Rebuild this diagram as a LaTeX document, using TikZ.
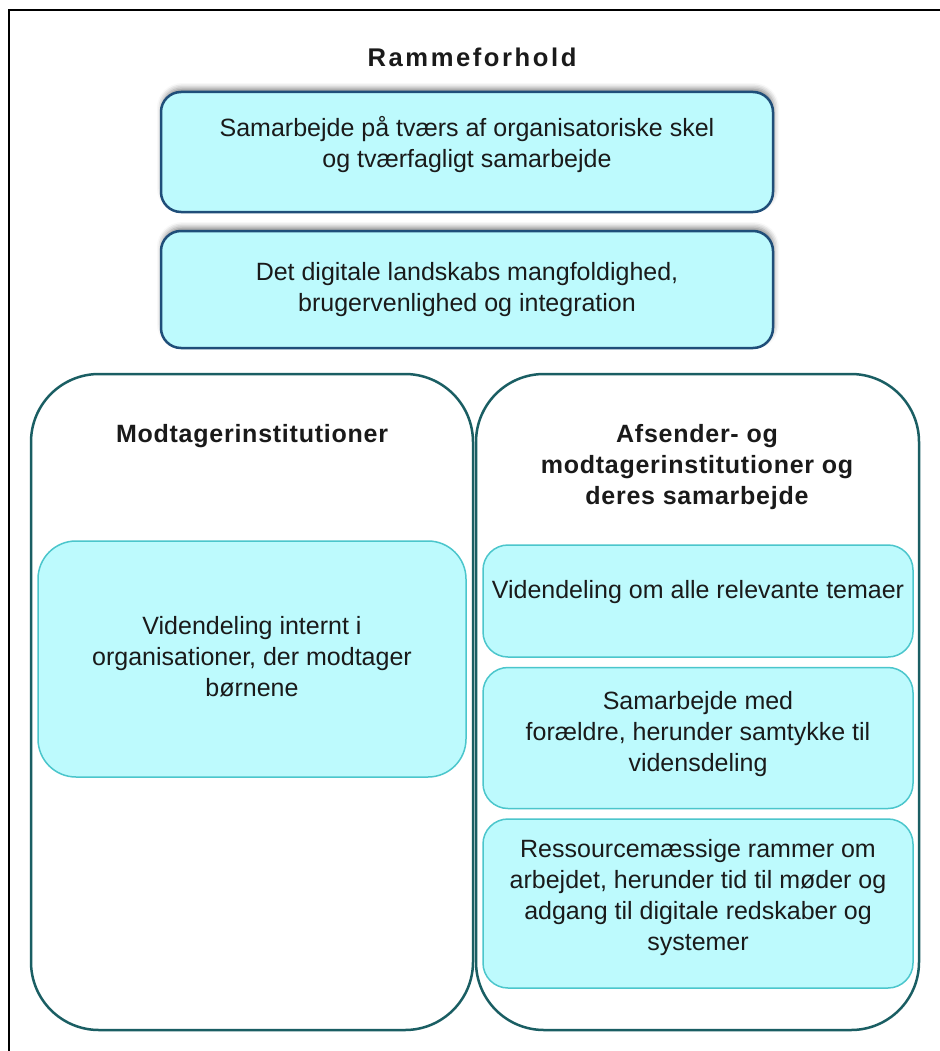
\documentclass[tikz,border=0pt]{standalone}
\usepackage{fontspec}
\setmainfont{Liberation Sans}
\usetikzlibrary{positioning,shadows.blur}
\definecolor{boxfill}{RGB}{189,250,253}
\definecolor{navy}{RGB}{31,78,121}
\definecolor{teal}{RGB}{26,94,99}
\definecolor{aqua}{RGB}{75,198,204}
\definecolor{ink}{RGB}{26,26,26}
\tikzset{basic/.style={rectangle,align=center,text=ink,font=\fontsize{25}{31}\selectfont}}
\tikzset{topbox/.style={basic,draw=navy,line width=2.5pt,fill=boxfill,rounded corners=20pt,minimum width=612pt,
  blur shadow={shadow xshift=1pt,shadow yshift=4pt,shadow blur radius=5pt,shadow opacity=45}}}
\tikzset{container/.style={basic,draw=teal,line width=2.5pt,fill=white,rounded corners=68pt,minimum width=442pt,minimum height=656pt}}
\tikzset{innerbox/.style={basic,draw=aqua,line width=1.5pt,fill=boxfill,rounded corners=25pt,minimum width=430pt}}
\tikzset{heading/.style={basic,font=\fontsize{25}{31}\selectfont\bfseries\addfontfeature{LetterSpace=3}}}

\begin{document}
\begin{tikzpicture}[x=1pt,y=-1pt]
    \useasboundingbox (0,0) rectangle (939,1051);
    \coordinate (framebl) at (9,1060);
    \coordinate (frametl) at (9,10);
    \coordinate (frametr) at (945,10);
    \draw[line width=2.5pt] (framebl) -- (frametl) -- (frametr);
    \node[heading,font=\fontsize{25.6}{31}\selectfont\bfseries\addfontfeature{LetterSpace=10}] (title) at (472,57) {Rammeforhold};
    % rammeforhold
    \node[topbox,minimum height=120pt] (samarb) at (467,152) {};
        \node[basic] (samarbtxt) at (467,145) {Samarbejde på tværs af organisatoriske skel\\og tværfagligt samarbejde};
    \node[topbox,minimum height=117pt] (digital) at (467,289.5) {};
        \node[basic] (digitaltxt) at (digital.center) {Det digitale landskabs mangfoldighed,\\brugervenlighed og integration};
    % modtagere
    \node[container] (modt) at (252,702) {};
        \node[heading] (modthead) at (252,436) {Modtagerinstitutioner};
    \node[innerbox,minimum width=428pt,minimum height=236pt,rounded corners=38pt] (intern) at (252,659) {};
        \node[basic] (interntxt) at (252,657) {Videndeling internt i\\organisationer, der modtager\\børnene};
    % afsender og modtager
    \node[container,minimum width=443pt] (afs) at (697.5,702) {};
        \node[heading] (afshead) at (697,467) {Afsender- og\\modtagerinstitutioner og\\deres samarbejde};
    \node[innerbox,minimum height=112pt] (temaer) at (698,601) {};
        \node[basic] (temaertxt) at (698,592) {Videndeling om alle relevante temaer};
    \node[innerbox,minimum height=141pt,below=9pt of temaer] (foraeldre) {};
        \node[basic] (foraeldretxt) at (698,734) {Samarbejde med\\forældre, herunder samtykke til\\vidensdeling};
    \node[innerbox,minimum height=169pt,below=9pt of foraeldre] (ressourcer) {};
        \node[basic] (ressourcertxt) at (698,898) {Ressourcemæssige rammer om\\arbejdet, herunder tid til møder og\\adgang til digitale redskaber og\\systemer};
\end{tikzpicture}
\end{document}
